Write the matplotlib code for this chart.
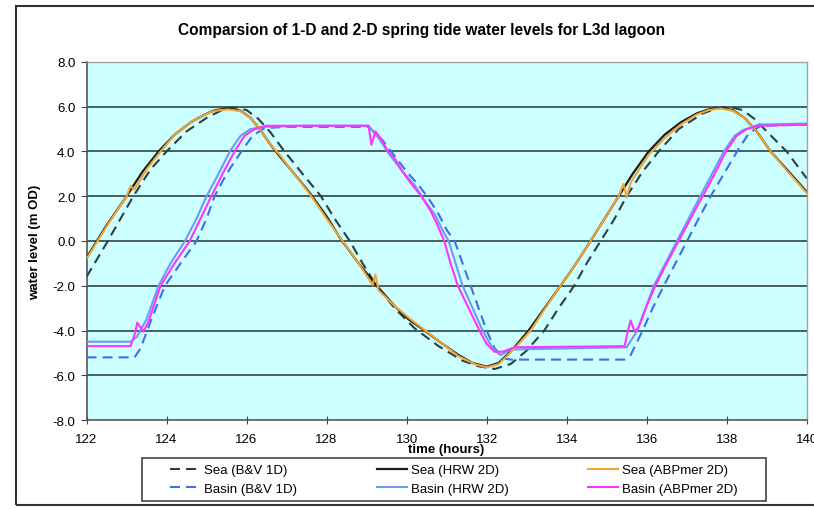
import matplotlib.pyplot as plt
from matplotlib.patches import Rectangle

plt.rcParams['font.family'] = ['Liberation Sans', 'DejaVu Sans']

# --- data (time in hours, water level in m OD) ---
t_sea_bv = [122.0, 122.5, 123.17, 123.6, 124.0, 124.5, 125.0, 125.35, 125.7, 126.0, 126.3,
            126.6, 126.95, 127.4, 127.86, 128.2, 128.58, 128.9, 129.25, 129.7, 130.2, 130.8,
            131.4, 131.8, 132.2, 132.6, 133.0, 133.44, 133.8, 134.19, 134.5, 134.85, 135.2,
            135.5, 135.9, 136.3, 136.8, 137.4, 137.75, 138.05, 138.4, 138.7, 139.0, 139.5, 140.0]
wl_sea_bv = [-1.6, -0.1, 2.0, 3.2, 4.0, 4.9, 5.5, 5.82, 5.97, 5.85, 5.45,
             4.85, 4.0, 3.0, 2.0, 1.0, 0.0, -1.0, -2.0, -3.0, -3.9, -4.7,
             -5.35, -5.6, -5.72, -5.5, -4.9, -4.0, -3.0, -2.0, -1.0, 0.0, 1.0,
             2.0, 3.1, 4.0, 5.0, 5.7, 5.92, 6.0, 5.85, 5.45, 4.9, 4.0, 2.8]

t_sea_hrw = [122.0, 122.5, 123.0, 123.4, 123.8, 124.2, 124.6, 124.9, 125.2, 125.55, 125.85,
             126.1, 126.35, 126.6, 126.8, 127.1, 127.6, 128.0, 128.35, 128.8, 129.25, 129.7,
             130.05, 130.45, 130.9, 131.3, 131.65, 132.0, 132.3, 132.65, 133.05, 133.45, 133.85,
             134.2, 134.6, 134.95, 135.3, 135.65, 136.05, 136.45, 136.85, 137.25, 137.55, 137.85,
             138.15, 138.45, 138.75, 139.1, 139.5, 140.0]
wl_sea_hrw = [-0.75, 0.7, 2.0, 3.1, 4.0, 4.75, 5.3, 5.6, 5.84, 5.93, 5.82,
              5.5, 4.95, 4.3, 3.85, 3.2, 2.1, 1.1, 0.1, -1.0, -2.0, -2.9,
              -3.5, -4.0, -4.6, -5.1, -5.45, -5.62, -5.45, -4.85, -4.0, -3.0, -2.0,
              -1.1, 0.0, 1.0, 2.0, 3.0, 4.0, 4.75, 5.3, 5.7, 5.88, 5.95,
              5.85, 5.5, 4.9, 4.0, 3.2, 2.2]

t_sea_abp = [122.0, 122.5, 123.0, 123.1, 123.2, 123.3, 123.5, 123.85, 124.2, 124.6, 124.9,
             125.2, 125.55, 125.85, 126.1, 126.35, 126.6, 126.85, 127.1, 127.6, 128.0, 128.4,
             128.8, 129.15, 129.22, 129.3, 129.7, 130.1, 130.5, 130.9, 131.3, 131.7, 132.0,
             132.3, 132.7, 133.1, 133.45, 133.85, 134.2, 134.6, 134.95, 135.3, 135.42, 135.5,
             135.6, 135.7, 136.05, 136.45, 136.85, 137.25, 137.55, 137.85, 138.15, 138.45,
             138.75, 139.1, 139.5, 140.0]
wl_sea_abp = [-0.8, 0.65, 2.0, 2.45, 2.3, 2.6, 3.2, 4.0, 4.75, 5.3, 5.6,
              5.82, 5.88, 5.8, 5.5, 4.95, 4.3, 3.8, 3.2, 2.05, 1.0, 0.0,
              -1.0, -1.95, -1.5, -2.2, -2.9, -3.5, -4.05, -4.6, -5.15, -5.5, -5.65,
              -5.5, -4.8, -4.0, -3.05, -2.0, -1.1, 0.0, 1.0, 2.0, 2.55, 1.95,
              2.6, 2.9, 3.85, 4.6, 5.2, 5.65, 5.85, 5.92, 5.82, 5.5,
              4.9, 4.0, 3.15, 2.15]

t_basin_bv = [122.0, 123.2, 123.35, 123.6, 123.96, 124.35, 124.75, 125.0, 125.2, 125.5, 125.87,
              126.15, 126.45, 127.0, 129.05, 129.4, 129.7, 130.0, 130.3, 130.55, 130.8, 131.0,
              131.2, 131.4, 131.6, 131.8, 132.0, 132.2, 132.45, 132.6, 135.45, 135.6, 135.9,
              136.15, 136.43, 136.72, 137.01, 137.3, 137.6, 137.93, 138.26, 138.55, 138.85, 140.0]
wl_basin_bv = [-5.2, -5.2, -4.8, -3.6, -2.0, -1.0, 0.0, 1.0, 2.0, 3.0, 4.0,
               4.7, 5.05, 5.1, 5.1, 4.5, 3.8, 3.1, 2.5, 1.9, 1.2, 0.5,
               0.0, -1.0, -2.0, -3.0, -4.0, -4.8, -5.25, -5.3, -5.3, -5.1, -4.0,
               -3.0, -2.0, -1.0, 0.0, 1.0, 2.0, 3.0, 4.0, 4.8, 5.15, 5.2]

t_basin_hrw = [122.0, 123.1, 123.25, 123.5, 123.8, 124.1, 124.46, 124.75, 125.0, 125.3, 125.58,
               125.85, 126.1, 126.4, 127.5, 129.05, 129.3, 129.6, 129.9, 130.2, 130.45, 130.7,
               130.95, 131.05, 131.4, 131.9, 132.15, 132.35, 132.6, 135.5, 135.77, 136.18, 136.76,
               137.34, 137.93, 138.2, 138.4, 138.8, 140.0]
wl_basin_hrw = [-4.5, -4.5, -4.3, -3.5, -2.0, -1.0, 0.0, 1.0, 2.0, 3.0, 4.0,
                4.7, 5.0, 5.1, 5.15, 5.15, 4.6, 3.8, 3.1, 2.5, 1.8, 1.2,
                0.3, 0.0, -2.0, -4.0, -4.8, -5.1, -4.85, -4.75, -4.0, -2.0, 0.0,
                2.0, 4.0, 4.7, 4.95, 5.2, 5.25]

t_basin_abp = [122.0, 123.1, 123.2, 123.27, 123.42, 123.55, 123.85, 124.2, 124.58, 124.85, 125.12,
               125.4, 125.7, 125.95, 126.2, 126.5, 127.5, 129.05, 129.12, 129.22, 129.35, 129.55,
               129.7, 129.9, 130.1, 130.37, 130.6, 130.75, 130.94, 131.1, 131.28, 131.55, 131.82,
               132.0, 132.2, 132.4, 132.7, 135.45, 135.52, 135.6, 135.7, 135.8, 136.0, 136.22,
               136.5, 136.8, 137.1, 137.4, 137.7, 137.98, 138.25, 138.5, 138.8, 140.0]
wl_basin_abp = [-4.7, -4.7, -4.2, -3.65, -4.05, -3.6, -2.0, -1.0, 0.0, 1.0, 2.0,
                3.0, 4.0, 4.7, 5.0, 5.15, 5.15, 5.15, 4.3, 4.9, 4.6, 3.95,
                3.7, 3.1, 2.6, 2.0, 1.35, 0.8, 0.0, -1.0, -2.0, -3.0, -4.0,
                -4.6, -4.95, -4.95, -4.75, -4.7, -4.1, -3.55, -4.05, -3.85, -2.9, -2.0,
                -1.0, 0.0, 1.0, 2.0, 3.0, 4.0, 4.7, 5.0, 5.15, 5.2]

x_ticks = [122, 124, 126, 128, 130, 132, 134, 136, 138, 140]
y_ticks = [-8, -6, -4, -2, 0, 2, 4, 6, 8]

fig = plt.figure(figsize=(8.14, 5.10), dpi=100)
ax = fig.add_axes([0.1063, 0.1745, 0.8847, 0.702])
ax.set_facecolor('#CCFFFF')

for y in y_ticks[1:-1]:
    ax.axhline(y, color='#2F4444', lw=1.2, zorder=1)

dash = (4.8, 2.9)
ax.plot(t_sea_bv, wl_sea_bv, color='#2F3F3F', lw=1.5, dashes=dash, label='Sea (B&V 1D)', zorder=3)
ax.plot(t_basin_bv, wl_basin_bv, color='#3F6FE8', lw=1.5, dashes=dash, label='Basin (B&V 1D)', zorder=3)
ax.plot(t_sea_hrw, wl_sea_hrw, color='#1A1A1A', lw=1.6, label='Sea (HRW 2D)', zorder=3)
ax.plot(t_basin_hrw, wl_basin_hrw, color='#6D9BF1', lw=1.5, label='Basin (HRW 2D)', zorder=3)
ax.plot(t_sea_abp, wl_sea_abp, color='#F2A435', lw=1.5, label='Sea (ABPmer 2D)', zorder=4)
ax.plot(t_basin_abp, wl_basin_abp, color='#FF33FF', lw=1.5, label='Basin (ABPmer 2D)', zorder=4)

ax.set_xlim(122, 140)
ax.set_ylim(-8, 8)
ax.set_xticks(x_ticks)
ax.set_yticks(y_ticks)
ax.set_yticklabels(['%.1f' % v for v in y_ticks])
ax.tick_params(axis='x', direction='inout', length=6, labelsize=9.5, pad=6, color='#444444')
ax.tick_params(axis='y', direction='out', length=4, labelsize=9.5, pad=4, color='#444444')
for s in ['left', 'bottom']:
    ax.spines[s].set_color('#555555')
    ax.spines[s].set_linewidth(1.2)
for s in ['top', 'right']:
    ax.spines[s].set_color('#A0A0A0')
    ax.spines[s].set_linewidth(1.0)

ax.set_xlabel('time (hours)', fontsize=9.5, fontweight='bold', labelpad=-1)
ax.set_ylabel('water level (m OD)', fontsize=9.5, fontweight='bold', labelpad=8)
fig.text(0.518, 0.94, 'Comparsion of 1-D and 2-D spring tide water levels for L3d lagoon',
         ha='center', va='center', fontsize=11.2, fontweight='bold')

# legend entries without their own frame; box drawn separately (wider padding, like Excel)
leg = fig.legend(ncol=3, loc='center', bbox_to_anchor=(0.5577, 0.0578), fontsize=9.5,
                 frameon=False, handlelength=2.3, handletextpad=0.3, columnspacing=6.0,
                 borderpad=0.36, labelspacing=0.5)
fig.add_artist(Rectangle((142 / 814, 1 - 502 / 510), (766 - 142) / 814, (502 - 459) / 510,
                         transform=fig.transFigure, fill=False, edgecolor='#444444', lw=1.2))

fig.add_artist(Rectangle((16 / 814, 1 - 506 / 510), 1.0, (506 - 7) / 510, transform=fig.transFigure,
                         fill=False, edgecolor='#333333', lw=1.5))

plt.savefig('out.png', dpi=100)
